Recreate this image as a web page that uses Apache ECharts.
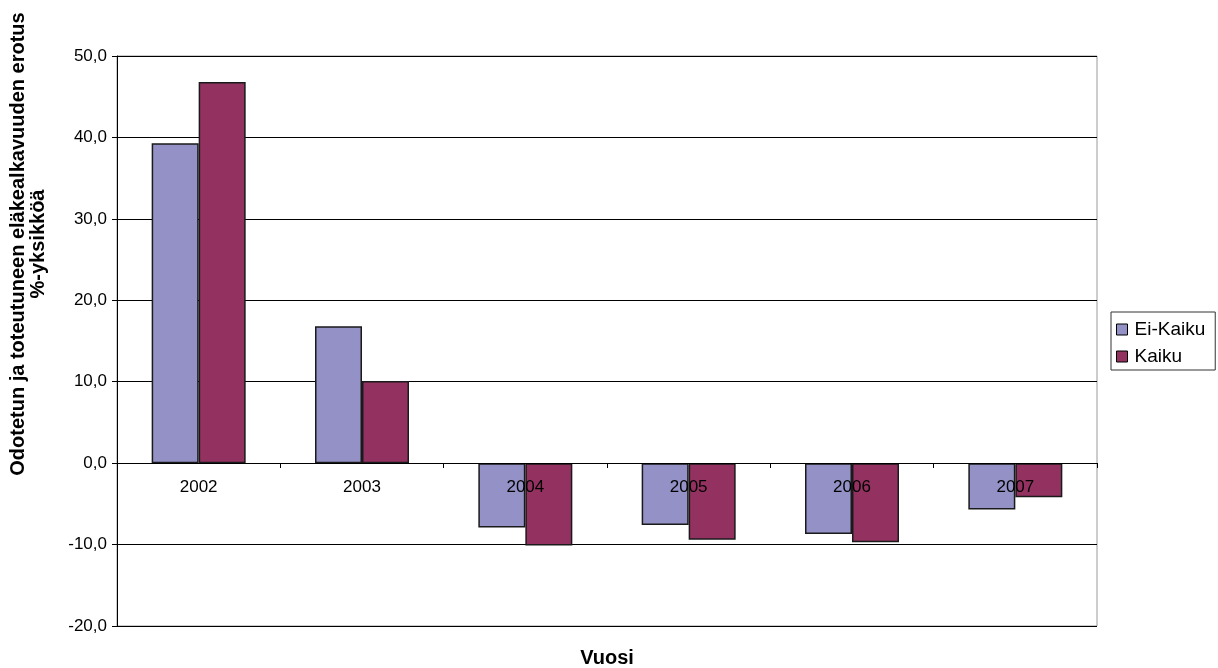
<!DOCTYPE html>
<html>
<head>
<meta charset="utf-8">
<script src="https://cdn.jsdelivr.net/npm/echarts@6/dist/echarts.min.js"></script>
<style>html,body{margin:0;padding:0;background:#fff}#c{width:1218px;height:668px}</style>
</head>
<body>
<div id="c"></div>
<script>
const categories = ['2002', '2003', '2004', '2005', '2006', '2007'];
const eiKaiku = [39.3, 16.8, -7.9, -7.6, -8.7, -5.7];
const kaiku = [46.8, 10.1, -10.1, -9.4, -9.7, -4.2];
const seriesNames = ['Ei-Kaiku', 'Kaiku'];
const yTitle1 = 'Odotetun ja toteutuneen eläkealkavuuden erotus';
const yTitle2 = '%-yksikköä';
const xTitle = 'Vuosi';

const font = 'Liberation Sans, Arial, sans-serif';
const chart = echarts.init(document.getElementById('c'));
chart.setOption({
  animation: false,
  backgroundColor: '#fff',
  textStyle: { fontFamily: font },
  grid: { left: 117, right: 121, top: 56, bottom: 42, show: true, borderColor: '#999', borderWidth: 1, backgroundColor: 'transparent' },
  legend: {
    left: 1111, top: 312, orient: 'vertical',
    borderColor: '#333', borderWidth: 1, padding: [8, 10, 4, 5],
    itemWidth: 11, itemHeight: 11, itemGap: 8,
    icon: 'rect',
    itemStyle: { borderColor: '#000', borderWidth: 1 },
    textStyle: { fontSize: 19, color: '#000', fontFamily: font, padding: [0, 0, 0, 2] },
    data: seriesNames
  },
  xAxis: {
    type: 'category', data: categories, position: 'bottom', offset: -163, z: 10,
    axisLine: { onZero: false, lineStyle: { color: '#000', width: 1 } },
    axisTick: { show: true, length: 5, lineStyle: { color: '#000' } },
    axisLabel: { fontSize: 17, color: '#000', margin: 16, fontFamily: font, hideOverlap: false },
    splitLine: { show: false }
  },
  yAxis: {
    type: 'value', min: -20, max: 50, interval: 10,
    axisLine: { show: true, lineStyle: { color: '#000' } },
    axisTick: { show: true, length: 5, lineStyle: { color: '#000' } },
    axisLabel: { fontSize: 17, color: '#000', margin: 10, fontFamily: font,
      formatter: v => v.toFixed(1).replace('.', ',') },
    splitLine: { show: true, lineStyle: { color: '#000', width: 1 } }
  },
  series: [
    { name: seriesNames[0], type: 'bar', data: eiKaiku, barWidth: 47, barGap: '0%', z: 2,
      itemStyle: { color: '#9391C5', borderColor: '#1a1a1a', borderWidth: 1.5 } },
    { name: seriesNames[1], type: 'bar', data: kaiku, barWidth: 47, barGap: '0%', z: 2,
      itemStyle: { color: '#933260', borderColor: '#1a1a1a', borderWidth: 1.5 } }
  ],
  graphic: [
    { type: 'text', x: 18, y: 244, rotation: Math.PI / 2,
      style: { text: yTitle1, font: 'bold 20px ' + font, fill: '#000', align: 'center', verticalAlign: 'middle' } },
    { type: 'text', x: 38, y: 244, rotation: Math.PI / 2,
      style: { text: yTitle2, font: 'bold 20px ' + font, fill: '#000', align: 'center', verticalAlign: 'middle' } },
    { type: 'text', x: 607, y: 658,
      style: { text: xTitle, font: 'bold 20px ' + font, fill: '#000', align: 'center', verticalAlign: 'middle' } }
  ]
});
</script>
</body>
</html>
